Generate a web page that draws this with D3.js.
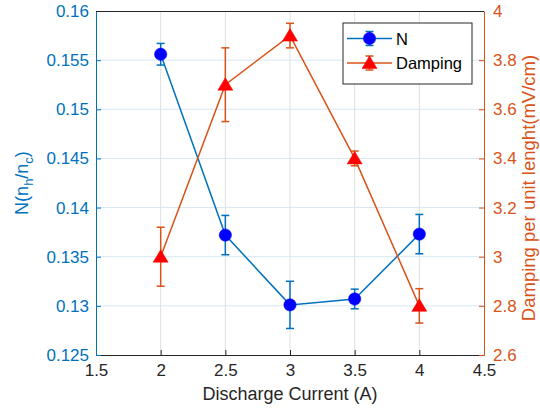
<!DOCTYPE html>
<html>
<head>
<meta charset="utf-8">
<script src="https://cdn.jsdelivr.net/npm/d3@7"></script>
<style>
  html, body { margin: 0; padding: 0; background: #fff; }
  svg { display: block; font-family: "Liberation Sans", Arial, Helvetica, sans-serif; }
</style>
</head>
<body>
<svg id="chart" width="540" height="410"></svg>
<script>
// Discharge current (A)
const current = [2, 2.5, 3, 3.5, 4];
// Density ratio N = n_h / n_c and its uncertainty
const nRatio = [0.1556, 0.1372, 0.1301, 0.1307, 0.1373];
const nErr = [0.0011, 0.0020, 0.0024, 0.0010, 0.0020];
// Damping per unit length (mV/cm) and its uncertainty
const damping = [3.0, 3.7, 3.9, 3.4, 2.8];
const dampErr = [0.12, 0.15, 0.05, 0.03, 0.07];

const xTicks = [1.5, 2, 2.5, 3, 3.5, 4, 4.5];
const leftTicks = [0.125, 0.13, 0.135, 0.14, 0.145, 0.15, 0.155, 0.16];
const rightTicks = [2.6, 2.8, 3, 3.2, 3.4, 3.6, 3.8, 4];

const blue = "#0072BD", orange = "#D95319", axisDark = "#262626";

const plot = { left: 96, right: 484, top: 11, bottom: 355 };
const svg = d3.select("#chart");

const x = d3.scaleLinear().domain([1.5, 4.5]).range([plot.left, plot.right]);
const yL = d3.scaleLinear().domain([0.125, 0.16]).range([plot.bottom, plot.top]);
const yR = d3.scaleLinear().domain([2.6, 4]).range([plot.bottom, plot.top]);

const fmt = v => String(+v.toFixed(3));

// grid
const grid = svg.append("g");
grid.selectAll("line.v").data(xTicks.slice(1, -1)).join("line")
  .attr("x1", d => x(d)).attr("x2", d => x(d))
  .attr("y1", plot.top).attr("y2", plot.bottom)
  .attr("stroke", "#dfdfdf").attr("stroke-width", 1);
grid.selectAll("line.h").data(leftTicks.slice(1, -1)).join("line")
  .attr("x1", plot.left).attr("x2", plot.right)
  .attr("y1", d => yL(d)).attr("y2", d => yL(d))
  .attr("stroke", "#d6e7f4").attr("stroke-width", 1);

// axes (ticks pointing inward)
const tickFont = "17px";
function styleAxis(g, color) {
  g.select(".domain").attr("stroke", color).attr("stroke-width", 1);
  g.selectAll(".tick line").attr("stroke", color);
  g.selectAll(".tick text").attr("fill", color).style("font-size", tickFont);
}

const gx = svg.append("g").attr("transform", `translate(0,${plot.bottom})`)
  .call(d3.axisBottom(x).tickValues(xTicks).tickFormat(fmt).tickSizeInner(-5).tickSizeOuter(0).tickPadding(9));
styleAxis(gx, axisDark);

const gl = svg.append("g").attr("transform", `translate(${plot.left},0)`)
  .call(d3.axisLeft(yL).tickValues(leftTicks).tickFormat(fmt).tickSizeInner(-5).tickSizeOuter(0).tickPadding(7));
styleAxis(gl, blue);

const gr = svg.append("g").attr("transform", `translate(${plot.right},0)`)
  .call(d3.axisRight(yR).tickValues(rightTicks).tickFormat(fmt).tickSizeInner(-5).tickSizeOuter(0).tickPadding(9));
styleAxis(gr, orange);

// top edge of the box
svg.append("line").attr("x1", plot.left).attr("x2", plot.right)
  .attr("y1", plot.top + 0.5).attr("y2", plot.top + 0.5)
  .attr("stroke", axisDark).attr("stroke-width", 1);

// series drawing
function drawSeries(xs, ys, es, yScale, lineColor, markerColor, marker) {
  const g = svg.append("g");
  const pts = xs.map((v, i) => ({ x: v, y: ys[i], e: es[i] }));
  g.append("path").datum(pts)
    .attr("d", d3.line().x(d => x(d.x)).y(d => yScale(d.y)))
    .attr("fill", "none").attr("stroke", lineColor).attr("stroke-width", 1.5);
  const cap = 4;
  const eb = g.selectAll("g.err").data(pts).join("g")
    .attr("stroke", lineColor).attr("stroke-width", 1.5);
  eb.append("line").attr("x1", d => x(d.x)).attr("x2", d => x(d.x))
    .attr("y1", d => yScale(d.y - d.e)).attr("y2", d => yScale(d.y + d.e));
  eb.append("line").attr("x1", d => x(d.x) - cap).attr("x2", d => x(d.x) + cap)
    .attr("y1", d => yScale(d.y + d.e)).attr("y2", d => yScale(d.y + d.e));
  eb.append("line").attr("x1", d => x(d.x) - cap).attr("x2", d => x(d.x) + cap)
    .attr("y1", d => yScale(d.y - d.e)).attr("y2", d => yScale(d.y - d.e));
  g.selectAll("path.mk").data(pts).join("path")
    .attr("transform", d => `translate(${x(d.x)},${yScale(d.y)})`)
    .attr("d", marker)
    .attr("fill", markerColor).attr("stroke", markerColor).attr("stroke-width", 0.5);
}

const circleMk = d3.symbol(d3.symbolCircle, 120)();
const triMk = "M0,-7 L7.5,5.5 L-7.5,5.5 Z";

drawSeries(current, nRatio, nErr, yL, blue, "#0000FF", circleMk);
drawSeries(current, damping, dampErr, yR, orange, "#FF0000", triMk);

// axis titles
svg.append("text")
  .attr("transform", `translate(${(plot.left + plot.right) / 2},400)`)
  .attr("text-anchor", "middle").attr("fill", axisDark)
  .style("font-size", "18px").text("Discharge Current (A)");

const ylab = svg.append("text")
  .attr("transform", "translate(28,183) rotate(-90)")
  .attr("text-anchor", "middle").attr("fill", blue).style("font-size", "18px");
ylab.append("tspan").text("N(n");
ylab.append("tspan").attr("dy", 5).style("font-size", "13px").text("h");
ylab.append("tspan").attr("dy", -5).text("/n");
ylab.append("tspan").attr("dy", 5).style("font-size", "13px").text("c");
ylab.append("tspan").attr("dy", -5).text(")");

svg.append("text")
  .attr("transform", "translate(535,188) rotate(-90)")
  .attr("text-anchor", "middle").attr("fill", orange)
  .style("font-size", "18.5px").text("Damping per unit lenght(mV/cm)");

// legend
const lg = svg.append("g").attr("transform", "translate(343,23)");
lg.append("rect").attr("width", 129).attr("height", 61)
  .attr("fill", "#fff").attr("stroke", axisDark).attr("stroke-width", 1);
const legendItems = [
  { name: "N", line: blue, fill: "#0000FF", mk: circleMk, y: 15.5 },
  { name: "Damping", line: orange, fill: "#FF0000", mk: triMk, y: 40 }
];
legendItems.forEach(it => {
  const r = lg.append("g").attr("transform", `translate(0,${it.y})`);
  r.append("line").attr("x1", 4).attr("x2", 49).attr("stroke", it.line).attr("stroke-width", 1.5);
  r.append("line").attr("x1", 26.5).attr("x2", 26.5).attr("y1", -7).attr("y2", 7)
    .attr("stroke", it.line).attr("stroke-width", 1.5);
  r.append("line").attr("x1", 22.5).attr("x2", 30.5).attr("y1", -7).attr("y2", -7)
    .attr("stroke", it.line).attr("stroke-width", 1.5);
  r.append("line").attr("x1", 22.5).attr("x2", 30.5).attr("y1", 7).attr("y2", 7)
    .attr("stroke", it.line).attr("stroke-width", 1.5);
  r.append("path").attr("transform", "translate(26.5,0)").attr("d", it.mk)
    .attr("fill", it.fill).attr("stroke", it.fill).attr("stroke-width", 0.5);
  r.append("text").attr("x", 53).attr("y", 6).attr("fill", "#000")
    .style("font-size", "16.5px").text(it.name);
});
</script>
</body>
</html>
